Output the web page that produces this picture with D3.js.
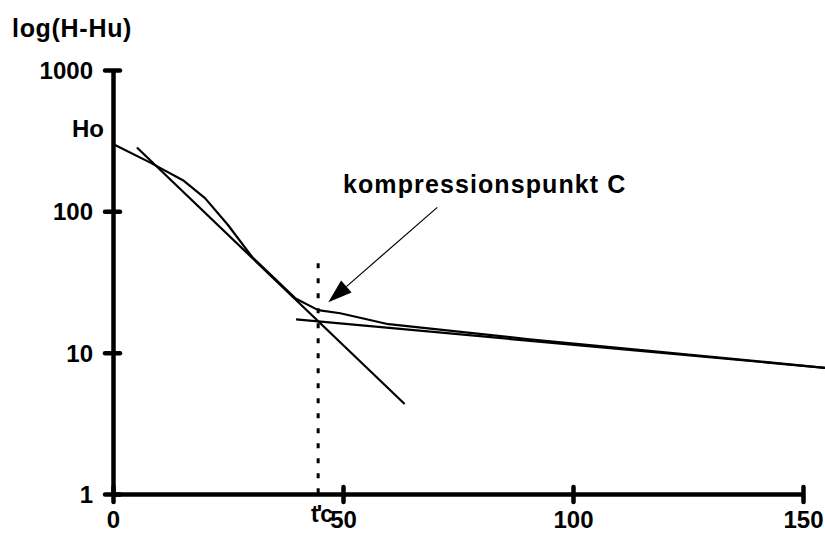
<!DOCTYPE html>
<html><head><meta charset="utf-8">
<script src="https://cdn.jsdelivr.net/npm/d3@7"></script>
<style>
html,body{margin:0;padding:0;background:#fff;}
text{font-family:"Liberation Sans",Arial,Helvetica,sans-serif;font-weight:bold;fill:#000;}
</style></head>
<body><svg id="c" width="825" height="543"></svg>
<script>
// measured curve (t, H-Hu)
const curveT = [0, 8, 15.2, 20, 25, 30.3, 39.6, 44.6, 49.4, 59.9, 90, 155];
const curveH = [300, 222, 166, 124, 80, 47.3, 24.3, 20.0, 19.0, 15.9, 12.5, 7.8];
// steep tangent line
const steepT = [5.2, 63.4];
const steepH = [283, 4.33];
// flat tangent line
const flatT = [39.8, 155];
const flatH = [17.2, 7.8];
// t'c vertical dashed line
const tcT = 44.6;
const tcTop = 42.9;
// arrow annotation (from, to) in data units
const arrowT = [70.5, 46.8];
const arrowH = [106.7, 22.7];
const xTicks = [0, 50, 100, 150];
const yTicks = [1, 10, 100, 1000];

const svg = d3.select("#c");
const x = d3.scaleLinear().domain([0, 150]).range([113, 803]);
const y = d3.scaleLog().domain([1, 1000]).range([494, 70]);

// axes
const yAxis = d3.axisLeft(y).tickValues(yTicks).tickFormat(d3.format("d")).tickSize(0).tickPadding(20);
const xAxis = d3.axisBottom(x).tickValues(xTicks).tickFormat(d3.format("d")).tickSize(0).tickPadding(27);
const gy = svg.append("g").attr("transform", `translate(${x(0)},0)`).call(yAxis);
const gx = svg.append("g").attr("transform", `translate(0,${y(1)})`).call(xAxis);
[gy, gx].forEach(g => {
  g.select(".domain").attr("stroke", "#000").attr("stroke-width", 4.5);
  g.selectAll("text").attr("font-size", 24).attr("font-family", "Liberation Sans, Arial, sans-serif").attr("font-weight", "bold").attr("fill", "#000");
});
gy.selectAll("text").attr("dy", "0.35em");
gx.selectAll("text").attr("dy", "0.3em");
// tick marks crossing the axis
gy.selectAll(".tick").append("line").attr("x1", -8).attr("x2", 7).attr("stroke", "#000").attr("stroke-width", 4.5).attr("stroke-linecap", "round");
gx.selectAll(".tick").append("line").attr("y1", -7).attr("y2", 8).attr("stroke", "#000").attr("stroke-width", 4.5).attr("stroke-linecap", "round");

const line = d3.line().x(d => x(d[0])).y(d => y(d[1]));
const plot = svg.append("g");
plot.append("path").datum(curveT.map((t, i) => [t, curveH[i]])).attr("d", line)
  .attr("fill", "none").attr("stroke", "#000").attr("stroke-width", 2.2).attr("stroke-linejoin", "round");
plot.append("path").datum(steepT.map((t, i) => [t, steepH[i]])).attr("d", line)
  .attr("fill", "none").attr("stroke", "#000").attr("stroke-width", 2.2);
plot.append("path").datum(flatT.map((t, i) => [t, flatH[i]])).attr("d", line)
  .attr("fill", "none").attr("stroke", "#000").attr("stroke-width", 2.2);
plot.append("line").attr("x1", x(tcT)).attr("x2", x(tcT)).attr("y1", y(tcTop)).attr("y2", y(1))
  .attr("stroke", "#000").attr("stroke-width", 3).attr("stroke-dasharray", "5,10");

// arrow
const ax1 = x(arrowT[0]), ay1 = y(arrowH[0]), ax2 = x(arrowT[1]), ay2 = y(arrowH[1]);
const ang = Math.atan2(ay2 - ay1, ax2 - ax1);
const hl = 24, hw = 8;
const bx = ax2 - hl * Math.cos(ang), by = ay2 - hl * Math.sin(ang);
svg.append("line").attr("x1", ax1).attr("y1", ay1).attr("x2", bx).attr("y2", by).attr("stroke", "#000").attr("stroke-width", 1.2);
svg.append("path").attr("d", `M${ax2},${ay2}L${bx + hw * Math.sin(ang)},${by - hw * Math.cos(ang)}L${bx - hw * Math.sin(ang)},${by + hw * Math.cos(ang)}Z`).attr("fill", "#000");

// texts
svg.append("text").attr("x", 12).attr("y", 37).attr("font-size", 25).attr("letter-spacing", 0.7).text("log(H-Hu)");
svg.append("text").attr("x", 72).attr("y", 137).attr("font-size", 24).text("Ho");
svg.append("text").attr("x", 343).attr("y", 193).attr("font-size", 25).attr("letter-spacing", 1.1).text("kompressionspunkt C");
svg.append("text").attr("x", 311).attr("y", 522).attr("font-size", 23).attr("letter-spacing", -2).text("t'c");
</script></body></html>
